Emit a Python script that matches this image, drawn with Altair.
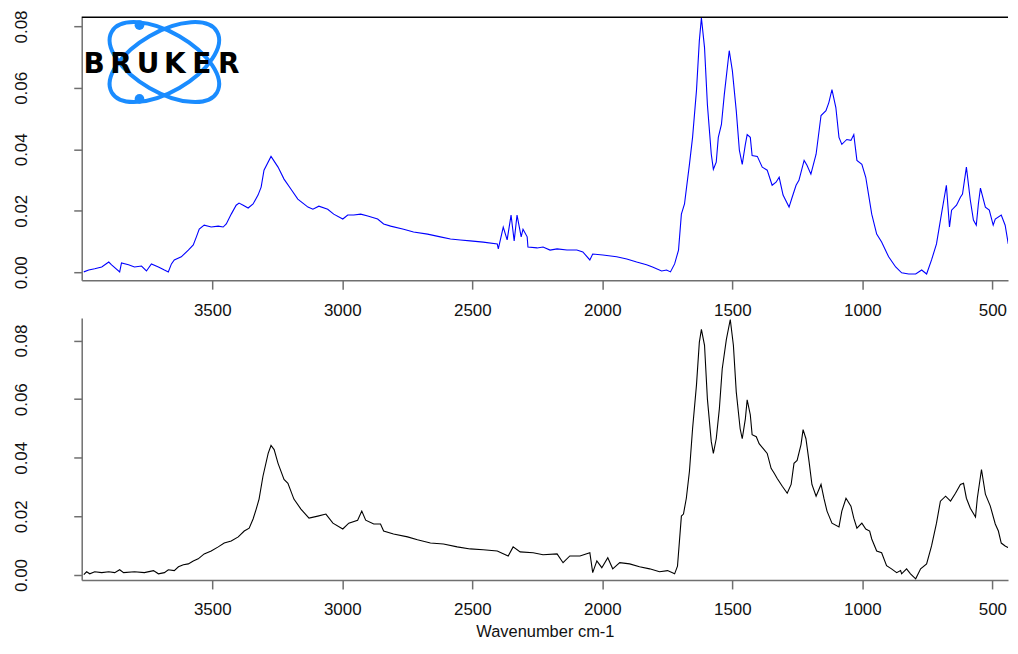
import altair as alt
import pandas as pd

# ---------------- data ----------------
top_wn = [
    3994, 3975, 3952, 3925, 3898, 3887, 3856, 3849, 3822, 3799,
    3772, 3753, 3734, 3707, 3684, 3669, 3657, 3646, 3619, 3592,
    3573, 3561, 3550, 3531, 3504, 3477, 3458, 3446, 3427, 3408,
    3397, 3381, 3362, 3343, 3324, 3312, 3301, 3274, 3247, 3224,
    3197, 3171, 3132, 3113, 3090, 3056, 3033, 2998, 2979, 2956,
    2929, 2902, 2864, 2841, 2814, 2764, 2726, 2672, 2623, 2584,
    2546, 2508, 2458, 2404, 2400, 2381, 2366, 2351, 2339, 2328,
    2312, 2305, 2289, 2286, 2251, 2228, 2201, 2174, 2136, 2098,
    2075, 2048, 2037, 1998, 1945, 1906, 1868, 1830, 1807, 1772,
    1753, 1738, 1722, 1707, 1696, 1684, 1676, 1665, 1653, 1638,
    1627, 1619, 1607, 1596, 1581, 1573, 1562, 1554, 1542, 1531,
    1512, 1500, 1485, 1473, 1462, 1450, 1443, 1431, 1424, 1404,
    1385, 1366, 1347, 1332, 1320, 1305, 1282, 1270, 1255, 1244,
    1224, 1213, 1198, 1178, 1159, 1140, 1129, 1117, 1102, 1090,
    1079, 1060, 1044, 1033, 1021, 1002, 987, 979, 964, 945,
    926, 899, 872, 849, 822, 795, 772, 753, 734, 715,
    696, 677, 665, 657, 638, 623, 615, 600, 585, 573,
    562, 554, 546, 527, 512, 497, 489, 466, 451, 439,
    428, 416, 408,
]
top_abs = [
    0.0001, 0.0007, 0.0011, 0.0017, 0.0033, 0.0024, 0.0001, 0.0030, 0.0024, 0.0017,
    0.0020, 0.0004, 0.0027, 0.0017, 0.0007, 0.0001, 0.0027, 0.0040, 0.0050, 0.0072,
    0.0089, 0.0115, 0.0140, 0.0153, 0.0147, 0.0150, 0.0147, 0.0157, 0.0189, 0.0218,
    0.0225, 0.0218, 0.0209, 0.0222, 0.0251, 0.0277, 0.0332, 0.0377, 0.0342, 0.0303,
    0.0270, 0.0238, 0.0212, 0.0205, 0.0215, 0.0205, 0.0189, 0.0173, 0.0186, 0.0186,
    0.0189, 0.0183, 0.0173, 0.0157, 0.0150, 0.0140, 0.0131, 0.0124, 0.0115, 0.0108,
    0.0105, 0.0102, 0.0098, 0.0092, 0.0076, 0.0147, 0.0105, 0.0186, 0.0102, 0.0186,
    0.0115, 0.0140, 0.0115, 0.0082, 0.0079, 0.0082, 0.0072, 0.0076, 0.0072, 0.0072,
    0.0066, 0.0040, 0.0059, 0.0056, 0.0050, 0.0043, 0.0033, 0.0024, 0.0017, 0.0004,
    0.0007, 0.0001, 0.0027, 0.0072, 0.0189, 0.0222, 0.0277, 0.0351, 0.0439, 0.0591,
    0.0753, 0.0828, 0.0731, 0.0546, 0.0384, 0.0335, 0.0358, 0.0439, 0.0481, 0.0578,
    0.0721, 0.0656, 0.0526, 0.0397, 0.0351, 0.0416, 0.0448, 0.0439, 0.0380, 0.0377,
    0.0342, 0.0332, 0.0283, 0.0293, 0.0309, 0.0251, 0.0212, 0.0244, 0.0283, 0.0299,
    0.0364, 0.0348, 0.0319, 0.0384, 0.0510, 0.0526, 0.0552, 0.0594, 0.0536, 0.0439,
    0.0416, 0.0432, 0.0429, 0.0448, 0.0364, 0.0351, 0.0309, 0.0267, 0.0189, 0.0124,
    0.0098, 0.0050, 0.0017, -0.0002, -0.0006, -0.0006, 0.0007, -0.0006, 0.0040, 0.0092,
    0.0189, 0.0283, 0.0147, 0.0202, 0.0218, 0.0244, 0.0254, 0.0342, 0.0235, 0.0170,
    0.0153, 0.0222, 0.0274, 0.0212, 0.0202, 0.0153, 0.0173, 0.0186, 0.0153, 0.0092,
    0.0131, 0.0124, 0.0007,
]

bot_wn = [
    3994, 3983, 3971, 3952, 3925, 3898, 3875, 3856, 3841, 3799,
    3761, 3726, 3707, 3684, 3669, 3646, 3630, 3611, 3592, 3573,
    3554, 3531, 3504, 3477, 3454, 3427, 3400, 3377, 3358, 3343,
    3331, 3320, 3305, 3285, 3274, 3262, 3247, 3224, 3209, 3186,
    3159, 3128, 3094, 3063, 3036, 2998, 2975, 2941, 2925, 2910,
    2879, 2853, 2841, 2803, 2749, 2711, 2661, 2611, 2558, 2508,
    2458, 2404, 2362, 2343, 2316, 2266, 2228, 2174, 2151, 2125,
    2086, 2048, 2037, 2021, 2002, 1979, 1960, 1933, 1895, 1857,
    1818, 1780, 1749, 1722, 1711, 1696, 1688, 1677, 1665, 1653,
    1638, 1627, 1619, 1607, 1596, 1581, 1573, 1562, 1550, 1539,
    1523, 1508, 1496, 1485, 1470, 1462, 1450, 1443, 1431, 1424,
    1408, 1397, 1378, 1366, 1351, 1339, 1328, 1308, 1289, 1274,
    1263, 1251, 1236, 1228, 1217, 1205, 1194, 1178, 1159, 1148,
    1136, 1117, 1090, 1079, 1063, 1044, 1033, 1021, 1002, 987,
    972, 964, 945, 926, 907, 888, 868, 853, 849, 830,
    815, 795, 776, 753, 734, 715, 700, 680, 661, 642,
    623, 611, 600, 585, 565, 558, 542, 527, 508, 489,
    477, 466, 451, 439, 428, 420, 412,
]
bot_abs = [
    0.0001, 0.0011, 0.0004, 0.0011, 0.0008, 0.0011, 0.0008, 0.0018, 0.0008, 0.0011,
    0.0008, 0.0015, 0.0004, 0.0008, 0.0018, 0.0015, 0.0028, 0.0035, 0.0038, 0.0048,
    0.0055, 0.0072, 0.0082, 0.0096, 0.0109, 0.0116, 0.0130, 0.0150, 0.0160, 0.0191,
    0.0225, 0.0259, 0.0337, 0.0415, 0.0442, 0.0428, 0.0381, 0.0326, 0.0313, 0.0259,
    0.0225, 0.0194, 0.0201, 0.0208, 0.0177, 0.0157, 0.0177, 0.0187, 0.0218, 0.0187,
    0.0174, 0.0174, 0.0150, 0.0140, 0.0130, 0.0120, 0.0109, 0.0106, 0.0096, 0.0089,
    0.0086, 0.0082, 0.0065, 0.0096, 0.0079, 0.0076, 0.0069, 0.0072, 0.0042, 0.0065,
    0.0065, 0.0076, 0.0008, 0.0048, 0.0025, 0.0059, 0.0021, 0.0042, 0.0038, 0.0028,
    0.0021, 0.0011, 0.0015, 0.0004, 0.0030, 0.0201, 0.0208, 0.0262, 0.0354, 0.0499,
    0.0648, 0.0794, 0.0838, 0.0784, 0.0601, 0.0455, 0.0415, 0.0465, 0.0567, 0.0703,
    0.0804, 0.0872, 0.0784, 0.0625, 0.0499, 0.0465, 0.0533, 0.0598, 0.0547, 0.0479,
    0.0472, 0.0448, 0.0428, 0.0415, 0.0364, 0.0347, 0.0330, 0.0303, 0.0279, 0.0309,
    0.0381, 0.0391, 0.0445, 0.0496, 0.0465, 0.0387, 0.0309, 0.0269, 0.0309, 0.0262,
    0.0218, 0.0177, 0.0164, 0.0218, 0.0262, 0.0235, 0.0194, 0.0160, 0.0177, 0.0157,
    0.0150, 0.0123, 0.0082, 0.0076, 0.0032, 0.0021, 0.0008, 0.0015, 0.0004, 0.0021,
    0.0004, -0.0013, 0.0021, 0.0038, 0.0099, 0.0177, 0.0252, 0.0269, 0.0252, 0.0279,
    0.0309, 0.0313, 0.0262, 0.0228, 0.0198, 0.0262, 0.0360, 0.0276, 0.0235, 0.0174,
    0.0150, 0.0109, 0.0099, 0.0093, 0.0143, 0.0170, 0.0089,
]

x_ticks = [3500, 3000, 2500, 2000, 1500, 1000, 500]
y_ticks = [0.00, 0.02, 0.04, 0.06, 0.08]
x_title = "Wavenumber cm-1"
logo_letters = ["B", "R", "U", "K", "E", "R"]

# ---------------- layout / style ----------------
W = 930
H_TOP = 264
H_BOT = 263
SPACING = 38
X_DOMAIN = [4002, 440]
TOP_Y = [-0.0026, 0.0830]
BOT_Y = [-0.0017, 0.0877]

FONT = "Liberation Sans"
AX_GRAY = "#6f6f6f"
LBL = "#111111"
LOGO_BLUE = "#1a8cff"

top_df = pd.DataFrame({"wn": top_wn, "a": top_abs})
bot_df = pd.DataFrame({"wn": bot_wn, "a": bot_abs})
one = pd.DataFrame({"k": [0]})


def x_axis(show_title):
    kw = dict(values=x_ticks, format="d", labelFont=FONT, labelFontSize=17,
              labelColor=LBL, labelPadding=13, labelFlush=False, labelOverlap=False,
              tickSize=9, tickWidth=1.5, tickColor=AX_GRAY, domainColor=AX_GRAY,
              domainWidth=1.5, grid=False)
    if show_title:
        kw.update(title=x_title, titleFont=FONT, titleFontSize=16.5,
                  titleFontWeight="normal", titleColor=LBL, titlePadding=6)
    else:
        kw.update(title=None)
    return alt.Axis(**kw)


def y_axis():
    return alt.Axis(values=y_ticks, format=".2f", title=None, labelAngle=270,
                    labelAlign="center", labelBaseline="alphabetic", labelPadding=47,
                    labelFont=FONT, labelFontSize=17, labelColor=LBL,
                    labelFlush=False, labelOverlap=False,
                    tickSize=8, tickWidth=1.5, tickColor=AX_GRAY,
                    domainColor=AX_GRAY, domainWidth=1.5, grid=False)


xscale = alt.Scale(domain=X_DOMAIN, nice=False, zero=False)

top_line = alt.Chart(top_df).mark_line(color="#0000ff", strokeWidth=1.1, clip=True).encode(
    x=alt.X("wn:Q", scale=xscale, axis=x_axis(False)),
    y=alt.Y("a:Q", scale=alt.Scale(domain=TOP_Y, nice=False, zero=False), axis=y_axis()),
    order=alt.Order("idx:Q"),
).transform_window(idx="row_number()")

top_border = alt.Chart(one).mark_rule(color="black", strokeWidth=1.5).encode(
    x=alt.value(0), x2=alt.value(W), y=alt.value(0)
)

ELLIPSE = ("M -1 0 C -1 -0.2717 -0.5523 -0.492 0 -0.492 "
           "C 0.5523 -0.492 1 -0.2717 1 0 "
           "C 1 0.2717 0.5523 0.492 0 0.492 "
           "C -0.5523 0.492 -1 0.2717 -1 0 Z")

ell_a = alt.Chart(one).mark_point(shape=ELLIPSE, angle=30, size=122 * 122, filled=False,
                                  color=LOGO_BLUE, strokeWidth=4, opacity=1).encode(
    x=alt.value(83), y=alt.value(45))
ell_b = alt.Chart(one).mark_point(shape=ELLIPSE, angle=330, size=122 * 122, filled=False,
                                  color=LOGO_BLUE, strokeWidth=4, opacity=1).encode(
    x=alt.value(83), y=alt.value(45))
dot1 = alt.Chart(one).mark_point(shape="circle", filled=True, size=95, color=LOGO_BLUE,
                                 opacity=1).encode(x=alt.value(58), y=alt.value(8))
dot2 = alt.Chart(one).mark_point(shape="circle", filled=True, size=95, color=LOGO_BLUE,
                                 opacity=1).encode(x=alt.value(58), y=alt.value(82))

letters = []
for i, ch in enumerate(logo_letters):
    letters.append(
        alt.Chart(one).mark_text(text=ch, font="DejaVu Sans", fontWeight="bold", fontSize=28,
                                 color="black", align="center", baseline="alphabetic").encode(
            x=alt.value(12.5 + i * 27), y=alt.value(55.5))
    )

top = alt.layer(top_line, top_border, ell_a, ell_b, dot1, dot2, *letters).properties(
    width=W, height=H_TOP)

bottom = alt.Chart(bot_df).mark_line(color="black", strokeWidth=1.1, clip=True).encode(
    x=alt.X("wn:Q", scale=xscale, axis=x_axis(True)),
    y=alt.Y("a:Q", scale=alt.Scale(domain=BOT_Y, nice=False, zero=False), axis=y_axis()),
    order=alt.Order("idx:Q"),
).transform_window(idx="row_number()").properties(width=W, height=H_BOT)

chart = alt.vconcat(top, bottom, spacing=SPACING, bounds="flush").properties(
    padding={"left": 4, "top": 0, "right": 0, "bottom": -3},
    background="white",
).configure_view(stroke="transparent")

chart.save("out.html", embed_options={"renderer": "svg", "actions": False})
